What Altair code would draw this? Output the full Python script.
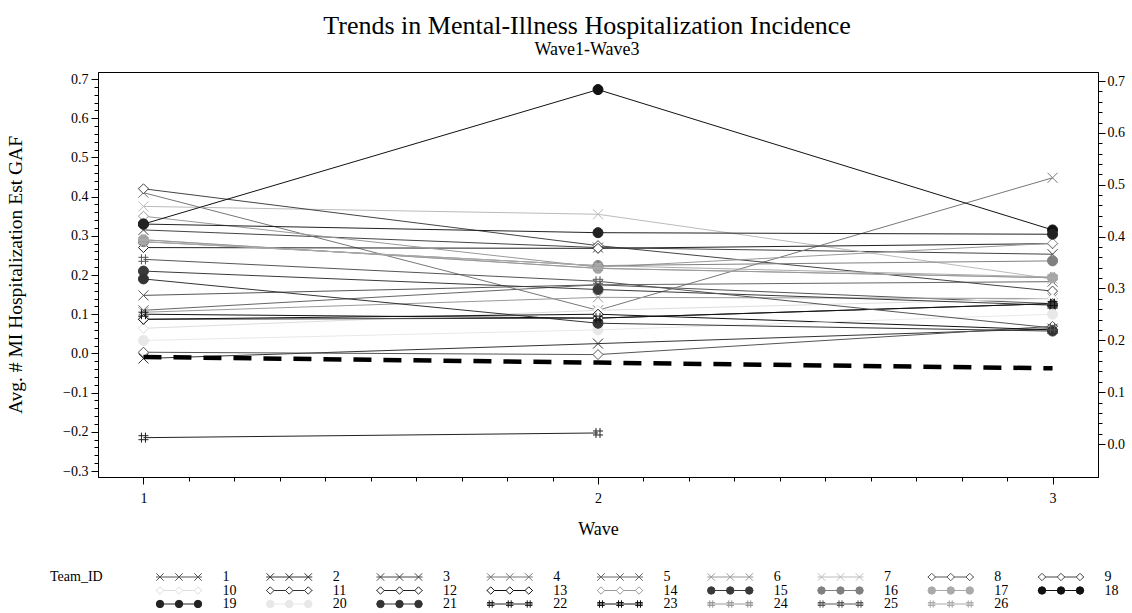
import altair as alt
import pandas as pd

# ---------------- data ----------------
teams = list(range(1, 27))
wave1 = [0.148, -0.013, 0.315, 0.41, 0.11, 0.105, 0.375,
         0.003, 0.42, 0.064, 0.087, 0.27, 0.087, 0.35,
         0.21, 0.285, 0.29, 0.33, 0.33, 0.033, 0.19,
         -0.215, 0.10, 0.29, 0.24, 0.285]
wave2 = [0.175, 0.025, 0.27, 0.11, 0.175, 0.143, 0.355,
         -0.003, 0.275, 0.11, 0.09, 0.268, 0.10, 0.22,
         0.163, 0.224, 0.217, 0.673, 0.308, 0.06, 0.077,
         -0.203, 0.09, 0.217, 0.184, 0.224]
wave3 = [0.127, 0.063, 0.253, 0.448, 0.183, 0.14, 0.19,
         0.069, 0.159, 0.14, 0.127, 0.28, 0.06, 0.281,
         0.123, 0.236, 0.193, 0.315, 0.304, 0.10, 0.057,
         None, 0.127, 0.193, 0.065, 0.195]
team_colors = ["#555555", "#333333", "#444444", "#777777", "#666666", "#999999", "#bbbbbb",
               "#555555", "#444444", "#dddddd", "#333333", "#222222", "#111111", "#999999",
               "#3a3a3a", "#808080", "#aaaaaa", "#111111", "#222222", "#e8e8e8", "#333333",
               "#222222", "#111111", "#999999", "#555555", "#aaaaaa"]
team_markers = ["x"] * 7 + ["diamond"] * 7 + ["circle"] * 7 + ["hash"] * 5

trend_waves = [1, 2, 3]
trend_values = [0.168, 0.157, 0.146]   # right-hand axis

# ---------------- helpers ----------------
X_PATH = "M-1,-1L1,1M-1,1L1,-1"
HASH_PATH = "M-0.4,-1L-0.4,1M0.4,-1L0.4,1M-1,-0.4L1,-0.4M-1,0.4L1,0.4"
shape_of = {"x": X_PATH, "diamond": "diamond", "circle": "circle", "hash": HASH_PATH}


def fill_of(marker, col):
    if marker == "circle":
        return col
    if marker == "diamond":
        return "white"
    return "transparent"


rows = []
for t, a, b, c, col, mk in zip(teams, wave1, wave2, wave3, team_colors, team_markers):
    for w, v in zip([1, 2, 3], [a, b, c]):
        if v is None:
            continue
        rows.append({"team": t, "wave": w, "value": v, "col": col,
                     "shp": shape_of[mk], "fillc": fill_of(mk, col)})
df = pd.DataFrame(rows)
trend_df = pd.DataFrame({"wave": trend_waves, "trend": trend_values})

FONT = "Liberation Serif"
major_test_y = "abs(datum.value*10 - round(datum.value*10)) < 0.001"
major_test_x = "abs(datum.value - round(datum.value)) < 0.001"

y_left_vals = [v / 100 for v in range(-30, 71, 2)]
y_right_vals = [v / 100 for v in range(0, 71, 2)]
x_vals = [v / 10 for v in range(10, 31)]

x_axis = alt.Axis(values=x_vals, labelExpr=f"{major_test_x} ? format(datum.value, 'd') : ''",
                  tickSize={"condition": {"test": major_test_x, "value": 7}, "value": 4},
                  title="Wave", titleFontSize=18, labelFontSize=14, labelPadding=7,
                  titlePadding=15, labelFlush=False, labelOverlap=False,
                  labelFont=FONT, titleFont=FONT)
x_enc = alt.X("wave:Q", scale=alt.Scale(domain=[0.9, 3.1], nice=False, zero=False), axis=x_axis)

y_left_axis = alt.Axis(values=y_left_vals,
                       labelExpr=f"{major_test_y} ? format(datum.value, '.1f') : ''",
                       tickSize={"condition": {"test": major_test_y, "value": 7}, "value": 4},
                       title="Avg. # MI Hospitalization Est GAF", titleFontSize=19.5,
                       labelFontSize=14, labelPadding=3, titlePadding=37,
                       labelFlush=False, labelOverlap=False, labelFont=FONT, titleFont=FONT)
y_right_axis = alt.Axis(values=y_right_vals, orient="right",
                        labelExpr=f"{major_test_y} ? format(datum.value, '.1f') : ''",
                        tickSize={"condition": {"test": major_test_y, "value": 7}, "value": 4},
                        labelFontSize=14, labelPadding=2, labelFlush=False, labelOverlap=False,
                        labelFont=FONT)

y_left = alt.Y("value:Q", scale=alt.Scale(domain=[-0.3153, 0.7179], nice=False, zero=False),
               axis=y_left_axis)

lines = alt.Chart(df).mark_line(strokeWidth=1).encode(
    x=x_enc, y=y_left, detail="team:N", stroke=alt.Stroke("col:N", scale=None))
points = alt.Chart(df).mark_point(size=100, strokeWidth=1, opacity=1).encode(
    x=x_enc, y=y_left,
    shape=alt.Shape("shp:N", scale=None),
    stroke=alt.Stroke("col:N", scale=None),
    fill=alt.Fill("fillc:N", scale=None))
trend = alt.Chart(trend_df).mark_line(color="black", strokeWidth=4.5, strokeDash=[18, 12]).encode(
    x=x_enc,
    y=alt.Y("trend:Q", title="", scale=alt.Scale(domain=[-0.0636, 0.7174], nice=False, zero=False),
            axis=y_right_axis))

main = alt.layer(alt.layer(lines, points), trend).resolve_scale(y="independent").properties(
    width=1000, height=405)

# ---------------- legend built from the same team arrays ----------------
PITCH = 110.25
LABEL0 = 124.5
marker_offsets = [-62.5 / PITCH, -43.5 / PITCH, -24.5 / PITCH]
leg_rows, leg_marks = [], []
for i, (t, col, mk) in enumerate(zip(teams, team_colors, team_markers)):
    c, r = i % 9, i // 9
    leg_rows.append({"lx": c, "lx1": c - 66.5 / PITCH, "lx2": c - 20.5 / PITCH, "row": r,
                     "label": str(t), "col": col})
    for off in marker_offsets:
        leg_marks.append({"lx": c + off, "row": r, "col": col, "shp": shape_of[mk],
                          "fillc": fill_of(mk, col)})
leg_df = pd.DataFrame(leg_rows)
legm_df = pd.DataFrame(leg_marks)
head_df = pd.DataFrame({"lx": [(50 - 98 - LABEL0) / PITCH], "row": [0], "label": ["Team_ID"]})

lx_scale = alt.Scale(domain=[-LABEL0 / PITCH, (1000 - LABEL0) / PITCH], nice=False, zero=False)
row_scale = alt.Scale(domain=[0, 2], reverse=True, nice=False, zero=False)

leg_lines = alt.Chart(leg_df).mark_rule(strokeWidth=1).encode(
    x=alt.X("lx1:Q", scale=lx_scale, axis=None), x2="lx2:Q",
    y=alt.Y("row:Q", scale=row_scale, axis=None), stroke=alt.Stroke("col:N", scale=None))
leg_pts = alt.Chart(legm_df).mark_point(size=55, strokeWidth=1, opacity=1).encode(
    x=alt.X("lx:Q", scale=lx_scale, axis=None),
    y=alt.Y("row:Q", scale=row_scale, axis=None),
    shape=alt.Shape("shp:N", scale=None),
    stroke=alt.Stroke("col:N", scale=None),
    fill=alt.Fill("fillc:N", scale=None))
leg_text = alt.Chart(leg_df).mark_text(align="left", baseline="middle", font=FONT,
                                       fontSize=14, color="black").encode(
    x=alt.X("lx:Q", scale=lx_scale, axis=None),
    y=alt.Y("row:Q", scale=row_scale, axis=None), text="label:N")
leg_head = alt.Chart(head_df).mark_text(align="left", baseline="middle", font=FONT,
                                        fontSize=14, color="black").encode(
    x=alt.X("lx:Q", scale=lx_scale, axis=None),
    y=alt.Y("row:Q", scale=row_scale, axis=None), text="label:N")

legend = alt.layer(leg_lines, leg_pts, leg_text, leg_head).properties(
    width=1000, height=27, view=alt.ViewBackground(stroke="transparent"))

chart = alt.vconcat(main, legend, spacing=30).properties(
    title=alt.TitleParams(text="Trends in Mental-Illness Hospitalization Incidence",
                          subtitle="Wave1-Wave3", font=FONT, fontSize=26, fontWeight="normal",
                          color="black", subtitleFont=FONT, subtitleFontSize=18,
                          subtitleColor="black", anchor="middle", offset=13, subtitlePadding=2,
                          dx=22),
    padding={"left": 5, "top": 12, "right": 5, "bottom": 0},
    background="white",
).configure_view(stroke="black", strokeWidth=1).configure_axis(
    grid=False, domainColor="black", tickColor="black", labelColor="black",
    titleColor="black", labelFont=FONT, titleFont=FONT, titleFontWeight="normal")

chart.save("out.html", embed_options={"renderer": "svg", "actions": False})
